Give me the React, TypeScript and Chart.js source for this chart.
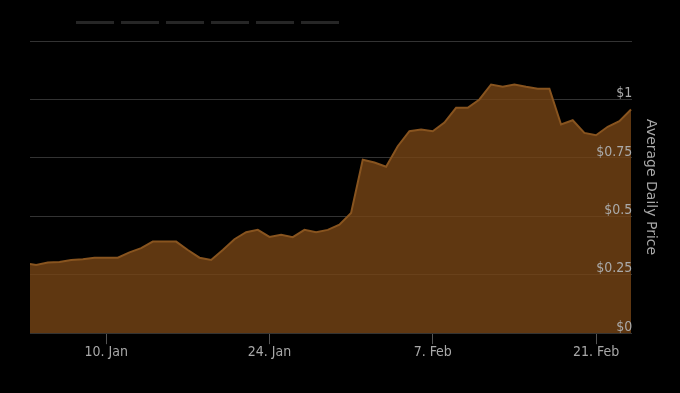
import { useEffect, useRef } from 'react';
import { Chart, registerables } from 'chart.js';

Chart.register(...registerables);

// ---- data ----
const dates: string[] = [
  '2021-01-03', '2021-01-04', '2021-01-05', '2021-01-06', '2021-01-07', '2021-01-08', '2021-01-09',
  '2021-01-10', '2021-01-11', '2021-01-12', '2021-01-13', '2021-01-14', '2021-01-15', '2021-01-16',
  '2021-01-17', '2021-01-18', '2021-01-19', '2021-01-20', '2021-01-21', '2021-01-22', '2021-01-23',
  '2021-01-24', '2021-01-25', '2021-01-26', '2021-01-27', '2021-01-28', '2021-01-29', '2021-01-30',
  '2021-01-31', '2021-02-01', '2021-02-02', '2021-02-03', '2021-02-04', '2021-02-05', '2021-02-06',
  '2021-02-07', '2021-02-08', '2021-02-09', '2021-02-10', '2021-02-11', '2021-02-12', '2021-02-13',
  '2021-02-14', '2021-02-15', '2021-02-16', '2021-02-17', '2021-02-18', '2021-02-19', '2021-02-20',
  '2021-02-21', '2021-02-22', '2021-02-23', '2021-02-24',
];

const prices: number[] = [
  0.300, 0.292, 0.302, 0.305, 0.313, 0.316, 0.323,
  0.323, 0.323, 0.346, 0.364, 0.392, 0.392, 0.392,
  0.356, 0.323, 0.313, 0.356, 0.402, 0.432, 0.442,
  0.412, 0.421, 0.411, 0.442, 0.432, 0.442, 0.464,
  0.514, 0.742, 0.730, 0.712, 0.800, 0.864, 0.871,
  0.864, 0.901, 0.964, 0.964, 1.000, 1.064, 1.054,
  1.064, 1.054, 1.046, 1.046, 0.893, 0.911, 0.857,
  0.847, 0.883, 0.907, 0.957,
];

const xTickDates: string[] = ['2021-01-10', '2021-01-24', '2021-02-07', '2021-02-21'];
const xTickLabels: string[] = ['10. Jan', '24. Jan', '7. Feb', '21. Feb'];

const yTickValues: number[] = [0, 0.25, 0.5, 0.75, 1, 1.25];
const yTickLabels: string[] = ['$0', '$0.25', '$0.5', '$0.75', '$1', ''];

const xRangeStart = 2.47; // days since 1 Jan
const xRangeEnd = 54.1;
const yMin = 0;
const yMax = 1.25;

const legendDashColors: string[] = ['#262626', '#262626', '#262626', '#262626', '#262626', '#262626'];

const dayOf = (s: string): number => {
  const [y, m, d] = s.split('-').map(Number);
  return (Date.UTC(y, m - 1, d) - Date.UTC(y, 0, 1)) / 86400000;
};

const tickFont = { family: "'DejaVu Sans Condensed', 'DejaVu Sans', sans-serif", size: 14 };

const legendPlace = {
  id: 'legendPlace',
  afterLayout(chart: any) {
    const l = chart.legend;
    if (l) {
      const w = l.width;
      const h = l.height;
      l.left = 70;
      l.right = 70 + w;
      l.top = 15;
      l.bottom = 15 + h;
    }
  },
};

export default function App() {
  const ref = useRef<HTMLCanvasElement | null>(null);

  useEffect(() => {
    document.body.style.margin = '0';
    document.body.style.background = '#000';
    if (!ref.current) return;
    const xTickDays = xTickDates.map(dayOf);
    const points = dates.map((d, i) => ({ x: dayOf(d), y: prices[i] }));

    const chart = new Chart(ref.current, {
      type: 'line',
      data: {
        datasets: [
          {
            label: 'Average Daily Price',
            data: points,
            borderColor: '#88541f',
            backgroundColor: 'rgba(119, 69, 21, 0.8)',
            borderWidth: 2,
            pointRadius: 0,
            pointHoverRadius: 0,
            fill: 'origin',
            tension: 0,
            clip: 0,
          },
        ],
      },
      options: {
        animation: false,
        responsive: false,
        events: [],
        layout: { padding: { left: 30, right: 11, top: 22, bottom: 32 } },
        plugins: {
          tooltip: { enabled: false },
          legend: {
            display: true,
            position: 'top',
            align: 'start',
            onClick: () => {},
            labels: {
              boxWidth: 38,
              boxHeight: 3,
              padding: 6,
              font: { size: 2 },
              generateLabels: () =>
                legendDashColors.map((c, i) => ({
                  text: '',
                  fillStyle: c,
                  strokeStyle: c,
                  lineWidth: 0,
                  hidden: false,
                  datasetIndex: 0,
                  index: i,
                })),
            },
          },
        },
        scales: {
          x: {
            type: 'linear',
            min: xRangeStart,
            max: xRangeEnd,
            afterBuildTicks: (scale: any) => {
              scale.ticks = xTickDays.map((v) => ({ value: v }));
            },
            ticks: {
              autoSkip: false,
              maxRotation: 0,
              padding: 0,
              color: '#a8a8a8',
              font: tickFont,
              callback: (v: any) => {
                const i = xTickDays.indexOf(Number(v));
                return i >= 0 ? xTickLabels[i] : '';
              },
            },
            grid: {
              drawOnChartArea: false,
              drawTicks: true,
              tickLength: 11,
              tickColor: '#555555',
              color: '#555555',
            },
            border: { display: false },
          },
          y: {
            position: 'right',
            min: yMin,
            max: yMax,
            afterBuildTicks: (scale: any) => {
              scale.ticks = yTickValues.map((v) => ({ value: v }));
            },
            ticks: {
              z: 1,
              mirror: true,
              padding: 0,
              labelOffset: -6,
              color: '#aaaaaa',
              font: tickFont,
              callback: (_v: any, i: number) => yTickLabels[i] ?? '',
            },
            grid: { color: '#333333', drawTicks: false, lineWidth: 1 },
            border: { display: false },
            title: {
              display: true,
              text: 'Average Daily Price',
              color: '#a8a8a8',
              font: { family: "'DejaVu Sans', sans-serif", size: 14 },
              padding: { top: 10, bottom: 10 },
            },
          },
        },
      },
      plugins: [legendPlace],
    });
    return () => chart.destroy();
  }, []);

  return (
    <div style={{ width: 680, height: 393, background: '#000' }}>
      <canvas ref={ref} width={680} height={393} />
    </div>
  );
}
